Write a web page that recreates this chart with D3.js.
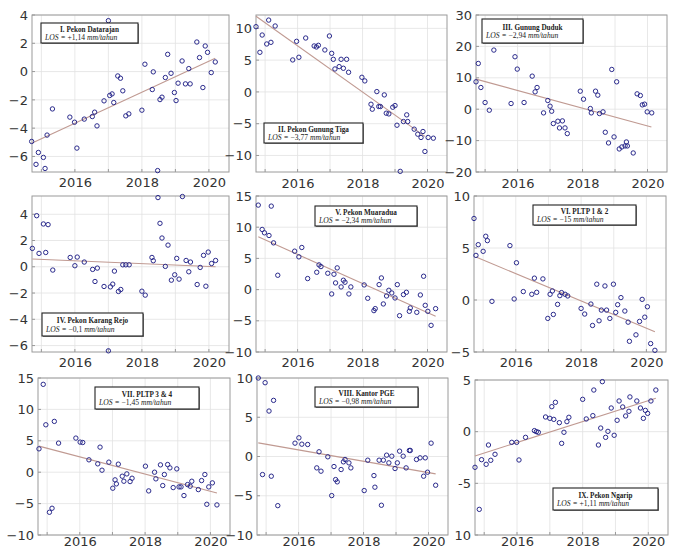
<!DOCTYPE html>
<html><head><meta charset="utf-8">
<script src="https://cdn.jsdelivr.net/npm/d3@7"></script>
<style>body{margin:0;background:#fff}</style>
</head><body>
<script>
// ---------- DATA ----------
const xDomain = [2014.72, 2020.6];
const yearGrid = [2015, 2016, 2017, 2018, 2019, 2020];
const yearLabels = [2016, 2018, 2020];

const titles = ["I. Pekon Datarajan","II. Pekon Gunung Tiga","III. Gunung Duduk","IV. Pekon Karang Rejo",
  "V. Pekon Muaradua","VI. PLTP 1 & 2","VII. PLTP 3 & 4","VIII. Kantor PGE","IX. Pekon Ngarip"];
const losValues = ["+1,14","\u22123,77","\u22122,94","\u22120,1","\u22122,34","\u221215","\u22121,45","\u22120,98","+1,11"];

const yTicks1 = [4,2,0,-2,-4,-6];
const yTicks2 = [10,5,0,-5,-10];
const yTicks3 = [30,20,10,0,-10,-20];
const yTicks4 = [4,2,0,-2,-4,-6];
const yTicks5 = [15,10,5,0,-5,-10];
const yTicks6 = [10,5,0,-5];
const yTicks7 = [15,10,5,0,-5,-10];
const yTicks8 = [10,5,0,-5,-10];
const yTicks9 = [5,0,-5,-10];
const yTickLabels9 = ["5","0","-5","10"];

const yDomain1 = [-7.1, 4], yDomain2 = [-12.6, 12.1], yDomain3 = [-20, 30];
const yDomain4 = [-6.49, 5.39], yDomain5 = [-10, 15], yDomain6 = [-5, 10];
const yDomain7 = [-10, 15], yDomain8 = [-10, 10], yDomain9 = [-10, 5];

const datarajan = [[2014.71,-4.94],[2014.84,-6.56],[2014.91,-5.72],[2015.06,-6.07],[2015.11,-6.85],[2015.17,-4.49],[2015.33,-2.64],[2015.85,-3.22],[2015.99,-3.58],[2016.06,-5.41],[2016.28,-3.36],[2016.52,-3.18],[2016.59,-2.87],[2016.66,-3.84],[2016.87,-2.07],[2017.0,3.6],[2017.04,-1.69],[2017.11,-1.58],[2017.16,-2.19],[2017.28,-0.31],[2017.36,-0.47],[2017.43,-1.36],[2017.52,-3.13],[2017.61,-2.99],[2018.0,-2.73],[2018.09,0.52],[2018.31,-1.27],[2018.34,-0.02],[2018.47,-7.0],[2018.54,-1.98],[2018.6,-1.81],[2018.7,-0.42],[2018.77,1.22],[2018.87,-0.12],[2018.97,-1.48],[2019.02,-2.05],[2019.08,-0.82],[2019.2,0.75],[2019.3,-0.87],[2019.4,0.21],[2019.44,-0.87],[2019.64,2.09],[2019.72,0.99],[2019.82,-1.13],[2019.89,1.81],[2019.96,1.36],[2020.07,-0.07],[2020.19,0.68]];
const gunungTiga = [[2014.72,10.26],[2014.84,6.23],[2014.91,8.95],[2015.05,7.54],[2015.11,11.3],[2015.18,7.8],[2015.31,10.37],[2015.85,5.03],[2015.97,7.96],[2016.04,5.45],[2016.25,8.48],[2016.51,7.23],[2016.58,7.07],[2016.64,7.33],[2016.84,6.6],[2016.98,8.8],[2017.05,6.07],[2017.1,5.13],[2017.15,3.61],[2017.28,3.98],[2017.34,5.13],[2017.41,3.72],[2017.51,5.13],[2017.57,3.09],[2017.98,2.3],[2018.07,1.73],[2018.26,-1.94],[2018.3,-2.72],[2018.44,0.05],[2018.5,-2.3],[2018.55,-2.3],[2018.67,-0.47],[2018.73,-3.35],[2018.81,-3.46],[2018.93,-2.41],[2019.0,-2.15],[2019.06,-5.24],[2019.16,-12.5],[2019.26,-4.66],[2019.36,-3.61],[2019.39,-4.66],[2019.59,-5.86],[2019.7,-6.65],[2019.8,-7.17],[2019.86,-6.23],[2019.92,-9.37],[2020.02,-7.17],[2020.18,-7.28]];
const gunungDuduk = [[2014.72,8.72],[2014.79,14.57],[2014.87,6.91],[2015.0,2.13],[2015.13,-0.32],[2015.27,18.83],[2015.8,1.81],[2015.92,16.7],[2015.99,12.77],[2016.2,2.13],[2016.45,10.53],[2016.54,5.53],[2016.6,6.91],[2016.8,-1.17],[2016.93,2.77],[2017.0,0.96],[2017.05,-0.64],[2017.1,-4.57],[2017.24,-3.83],[2017.29,-5.96],[2017.38,-3.72],[2017.46,-5.96],[2017.53,-7.77],[2017.93,5.74],[2018.03,3.19],[2018.24,0.21],[2018.27,-1.17],[2018.4,5.74],[2018.47,4.47],[2018.52,-1.38],[2018.63,-0.85],[2018.7,-7.34],[2018.8,-10.74],[2018.9,12.66],[2018.97,-8.83],[2019.05,8.72],[2019.13,-12.66],[2019.21,-12.02],[2019.31,-11.7],[2019.35,-10.43],[2019.38,-11.7],[2019.56,-13.94],[2019.68,4.89],[2019.78,4.36],[2019.84,1.38],[2019.91,1.6],[2019.99,-0.85],[2020.13,-1.17]];
const karangRejo = [[2014.73,1.4],[2014.86,3.89],[2014.93,1.02],[2015.06,3.26],[2015.13,1.09],[2015.2,3.21],[2015.34,-0.25],[2015.86,0.71],[2016.0,0.08],[2016.07,0.74],[2016.28,0.36],[2016.53,-0.2],[2016.6,-1.12],[2016.67,-0.1],[2016.87,-1.5],[2017.0,-6.4],[2017.06,-1.53],[2017.13,-1.32],[2017.18,-0.33],[2017.3,-1.88],[2017.37,-1.73],[2017.43,0.15],[2017.52,0.15],[2017.62,0.15],[2018.0,-1.86],[2018.1,-2.16],[2018.3,0.71],[2018.34,0.46],[2018.48,5.27],[2018.54,3.31],[2018.6,2.19],[2018.7,0.03],[2018.78,1.65],[2018.88,-1.02],[2018.98,-0.61],[2019.04,0.64],[2019.11,-0.94],[2019.21,5.35],[2019.32,0.48],[2019.4,-0.38],[2019.45,0.36],[2019.65,-1.35],[2019.74,-0.05],[2019.84,0.87],[2019.91,-1.48],[2019.98,1.12],[2020.08,0.25],[2020.2,0.48]];
const muaradua = [[2014.79,13.54],[2014.91,9.64],[2014.98,9.1],[2015.12,8.67],[2015.19,13.38],[2015.26,7.49],[2015.39,2.3],[2015.91,6.16],[2016.04,5.25],[2016.13,6.75],[2016.31,1.77],[2016.59,2.78],[2016.66,3.96],[2016.72,3.69],[2016.93,2.62],[2017.05,-0.7],[2017.12,2.46],[2017.17,1.07],[2017.22,3.48],[2017.34,0.43],[2017.41,1.5],[2017.46,1.18],[2017.58,-0.7],[2017.64,0.43],[2018.05,0.75],[2018.16,-1.39],[2018.35,-3.37],[2018.39,-3.05],[2018.51,0.8],[2018.58,1.87],[2018.64,-2.3],[2018.74,-1.02],[2018.81,-0.11],[2018.9,-0.54],[2019.0,-1.34],[2019.07,0.8],[2019.14,-4.18],[2019.26,-0.8],[2019.35,-0.43],[2019.44,-3.48],[2019.47,-2.94],[2019.67,-3.64],[2019.78,-0.86],[2019.88,2.14],[2019.93,-2.52],[2020.01,-3.48],[2020.11,-5.73],[2020.25,-3.05]];
const pltp12 = [[2014.72,7.84],[2014.78,4.29],[2014.85,5.32],[2015.0,4.68],[2015.08,6.13],[2015.13,5.71],[2015.27,-0.13],[2015.82,5.23],[2015.95,0.1],[2016.02,3.58],[2016.23,0.81],[2016.49,0.55],[2016.57,2.1],[2016.64,0.74],[2016.83,2.03],[2016.98,-1.77],[2017.05,0.55],[2017.12,0.87],[2017.15,-1.39],[2017.28,-0.42],[2017.35,0.42],[2017.4,0.71],[2017.51,0.55],[2017.59,0.39],[2018.0,-0.81],[2018.11,-1.35],[2018.3,-0.39],[2018.35,-2.45],[2018.48,1.52],[2018.55,-2.0],[2018.62,-0.97],[2018.73,1.35],[2018.78,-0.97],[2018.88,-1.77],[2018.99,1.52],[2019.06,-1.19],[2019.12,-0.45],[2019.22,0.23],[2019.34,-1.06],[2019.44,-2.13],[2019.48,-3.97],[2019.68,-3.35],[2019.79,-2.06],[2019.87,0.06],[2019.95,-1.65],[2020.03,-0.65],[2020.13,-4.19],[2020.26,-4.84]];
const pltp34 = [[2014.75,3.72],[2014.88,13.99],[2014.96,7.55],[2015.07,-6.38],[2015.15,-5.74],[2015.22,8.09],[2015.35,4.63],[2015.88,5.43],[2016.01,4.79],[2016.09,4.73],[2016.28,1.97],[2016.55,1.33],[2016.62,3.99],[2016.68,0.32],[2016.89,1.6],[2017.01,-2.55],[2017.08,-1.22],[2017.12,-1.86],[2017.18,1.28],[2017.3,-0.64],[2017.35,-1.44],[2017.44,-0.27],[2017.54,-1.49],[2017.6,-0.96],[2018.01,0.96],[2018.11,-2.98],[2018.29,0.0],[2018.33,-1.06],[2018.47,1.17],[2018.54,-2.13],[2018.59,-0.37],[2018.69,1.22],[2018.76,0.69],[2018.86,-2.45],[2018.97,0.53],[2019.04,-2.34],[2019.1,-2.34],[2019.19,-3.72],[2019.3,-1.97],[2019.38,-2.23],[2019.43,-1.44],[2019.63,-2.77],[2019.73,-1.33],[2019.83,-0.37],[2019.89,-5.11],[2019.95,-2.34],[2020.06,-1.7],[2020.2,-5.21]];
const kantorPGE = [[2014.76,10.0],[2014.89,-2.3],[2014.97,9.4],[2015.09,5.79],[2015.16,-2.51],[2015.23,7.15],[2015.36,-6.26],[2015.89,1.7],[2016.01,2.38],[2016.1,1.57],[2016.28,1.53],[2016.56,-1.45],[2016.63,0.6],[2016.69,-1.87],[2016.9,-0.04],[2017.02,-4.98],[2017.09,-1.28],[2017.14,-2.94],[2017.19,-3.23],[2017.31,-1.66],[2017.38,-0.68],[2017.43,-0.38],[2017.55,-0.81],[2017.61,-1.45],[2018.02,-4.34],[2018.13,-0.47],[2018.32,-2.43],[2018.35,-3.91],[2018.48,-0.47],[2018.55,-6.21],[2018.61,-0.47],[2018.71,0.17],[2018.78,-0.81],[2018.87,0.04],[2018.97,-1.53],[2019.04,-0.81],[2019.11,0.68],[2019.22,0.04],[2019.31,-1.45],[2019.41,0.77],[2019.44,0.77],[2019.63,-0.38],[2019.74,-0.17],[2019.85,-2.51],[2019.9,-0.17],[2019.97,-2.0],[2020.08,1.7],[2020.22,-3.66]];
const ngarip = [[2014.72,-3.45],[2014.85,-7.52],[2014.92,-2.71],[2015.06,-3.16],[2015.13,-1.29],[2015.2,-2.77],[2015.33,-2.19],[2015.84,-1.03],[2015.99,-1.03],[2016.06,-2.74],[2016.26,-0.55],[2016.53,0.1],[2016.59,0.0],[2016.65,-0.06],[2016.87,1.42],[2017.0,1.29],[2017.06,2.42],[2017.12,1.19],[2017.17,2.84],[2017.29,0.87],[2017.36,-1.13],[2017.43,-0.06],[2017.52,0.97],[2017.58,1.39],[2018.0,3.13],[2018.11,1.23],[2018.31,1.55],[2018.34,4.03],[2018.48,-1.29],[2018.55,0.35],[2018.6,4.84],[2018.7,-0.55],[2018.77,0.03],[2018.87,2.29],[2018.96,-0.35],[2019.05,1.1],[2019.11,2.97],[2019.22,2.39],[2019.31,1.52],[2019.41,1.97],[2019.44,3.36],[2019.65,2.97],[2019.76,2.29],[2019.85,1.29],[2019.91,2.06],[2019.98,1.77],[2020.08,2.97],[2020.23,4.03]];

const trends = [
  [[2014.71,-5.06],[2020.19,0.94]],
  [[2014.72,11.9],[2019.92,-7.0]],
  [[2014.72,9.57],[2020.12,-5.64]],
  [[2014.73,0.59],[2020.2,0.0]],
  [[2014.79,8.46],[2020.25,-4.28]],
  [[2014.78,4.13],[2020.26,-3.06]],
  [[2014.75,4.15],[2020.2,-3.3]],
  [[2014.76,1.74],[2020.22,-2.21]],
  [[2014.72,-2.35],[2020.23,3.23]]
];

// ---------- LAYOUT ----------
const panels = [
  {x0:32,x1:229,y0:15,y1:172,pad:6,yd:yDomain1,ticks:yTicks1,pts:datarajan,box:[41,23,97,20]},
  {x0:256,x1:447,y0:15,y1:172,pad:7,yd:yDomain2,ticks:yTicks2,pts:gunungTiga,box:[264,123,99,20]},
  {x0:476,x1:667,y0:15,y1:172,pad:7,yd:yDomain3,ticks:yTicks3,pts:gunungDuduk,box:[482,19,101,24]},
  {x0:32,x1:229,y0:196,y1:352,pad:6,yd:yDomain4,ticks:yTicks4,pts:karangRejo,box:[42,313,101,23]},
  {x0:256,x1:447,y0:196,y1:352,pad:6,yd:yDomain5,ticks:yTicks5,pts:muaradua,box:[315,206,102,20]},
  {x0:474,x1:666,y0:196,y1:352,pad:6,yd:yDomain6,ticks:yTicks6,pts:pltp12,box:[533,205,103,20]},
  {x0:38,x1:230,y0:378,y1:535,pad:2,yd:yDomain7,ticks:yTicks7,pts:pltp34,box:[95,387,104,22]},
  {x0:257,x1:448,y0:378,y1:535,pad:2,yd:yDomain8,ticks:yTicks8,pts:kantorPGE,box:[315,387,103,20]},
  {x0:475,x1:668,y0:380,y1:535,pad:2,yd:yDomain9,ticks:yTicks9,labels:yTickLabels9,pts:ngarip,box:[553,488,105,22]}
];

const svg = d3.select("body").append("svg").attr("width",677).attr("height",551)
  .style("font-family","'DejaVu Sans', sans-serif");

panels.forEach((p,i)=>{
  const x = d3.scaleLinear().domain(xDomain).range([p.x0,p.x1]);
  const y = d3.scaleLinear().domain(p.yd).range([p.y1,p.y0]);
  const g = svg.append("g");
  g.append("rect").attr("x",p.x0).attr("y",p.y0).attr("width",p.x1-p.x0).attr("height",p.y1-p.y0).attr("fill","#fff");
  // grid
  g.selectAll(".vg").data(yearGrid).enter().append("line")
    .attr("x1",d=>x(d)).attr("x2",d=>x(d)).attr("y1",p.y0).attr("y2",p.y1)
    .attr("stroke","#e2e2e2").attr("stroke-width",0.8);
  g.selectAll(".hg").data(p.ticks).enter().append("line")
    .attr("x1",p.x0).attr("x2",p.x1).attr("y1",d=>y(d)).attr("y2",d=>y(d))
    .attr("stroke","#e2e2e2").attr("stroke-width",0.8);
  // axes
  const ax = d3.axisBottom(x).tickValues(yearLabels).tickFormat(d3.format("d")).tickSize(0).tickPadding(p.pad);
  const axg = g.append("g").attr("transform",`translate(0,${p.y1})`).call(ax);
  axg.select(".domain").remove();
  axg.selectAll("text").attr("font-size",13).attr("fill","#333").attr("font-family","'DejaVu Sans', sans-serif");
  const ay = d3.axisLeft(y).tickValues(p.ticks).tickSize(0).tickPadding(4)
    .tickFormat((d,j)=> p.labels ? p.labels[j] : d3.format("d")(d));
  const ayg = g.append("g").attr("transform",`translate(${p.x0},0)`).call(ay);
  ayg.select(".domain").remove();
  ayg.selectAll("text").attr("font-size",13).attr("fill","#333").attr("font-family","'DejaVu Sans', sans-serif");
  // small inward ticks
  g.selectAll(".yt").data(p.ticks).enter().append("line")
    .attr("x1",p.x0).attr("x2",p.x0+3).attr("y1",d=>y(d)).attr("y2",d=>y(d)).attr("stroke","#999");
  g.selectAll(".xt").data(yearGrid).enter().append("line")
    .attr("x1",d=>x(d)).attr("x2",d=>x(d)).attr("y1",p.y1).attr("y2",p.y1-3).attr("stroke","#999");
  // border
  g.append("rect").attr("x",p.x0).attr("y",p.y0).attr("width",p.x1-p.x0).attr("height",p.y1-p.y0)
    .attr("fill","none").attr("stroke","#9a9a9a").attr("stroke-width",1);
  // trend
  g.append("path").datum(trends[i])
    .attr("d",d3.line().x(d=>x(d[0])).y(d=>y(d[1])))
    .attr("stroke","#c09a92").attr("stroke-width",1.1).attr("fill","none");
  // points
  g.selectAll(".pt").data(p.pts).enter().append("circle")
    .attr("cx",d=>x(d[0])).attr("cy",d=>y(d[1])).attr("r",2.2)
    .attr("fill","none").attr("stroke","#2a2a8c").attr("stroke-width",1);
  // legend box
  const [bx,by,bw,bh] = p.box;
  g.append("rect").attr("x",bx+1).attr("y",by+1).attr("width",bw).attr("height",bh).attr("fill","#888");
  g.append("rect").attr("x",bx).attr("y",by).attr("width",bw).attr("height",bh)
    .attr("fill","#fff").attr("stroke","#222").attr("stroke-width",1.1);
  g.append("text").attr("x",bx+bw/2).attr("y",by+bh/2-1.5).attr("text-anchor","middle")
    .attr("font-family","'Liberation Serif', serif").attr("font-weight","bold").attr("font-size",7.2)
    .attr("fill","#222").text(titles[i]);
  const t2 = g.append("text").attr("x",bx+4).attr("y",by+bh/2+7)
    .attr("font-family","'Liberation Serif', serif").attr("font-size",7.6).attr("fill","#222");
  t2.append("tspan").attr("font-style","italic").text("LOS = ");
  t2.append("tspan").text(" " + losValues[i] + " ");
  t2.append("tspan").attr("font-style","italic").text("mm/tahun");
});
</script>
</body></html>
